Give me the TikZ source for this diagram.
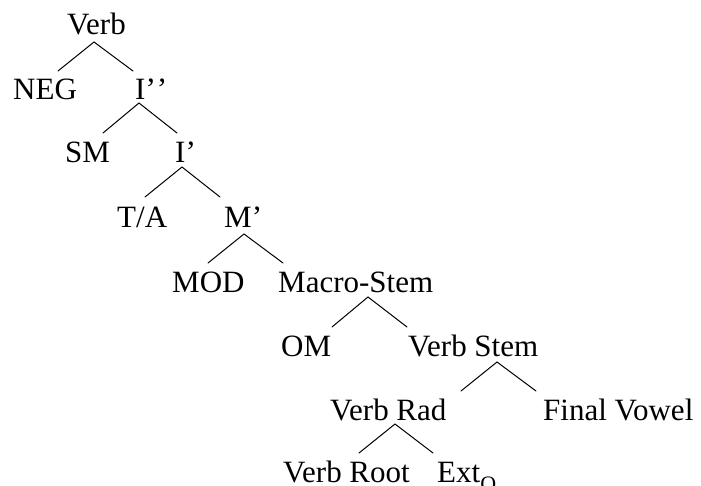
\documentclass[tikz,border=0pt]{standalone}
\usepackage{fontspec}
\setmainfont{Liberation Serif}
\begin{document}
\begin{tikzpicture}[x=1pt,y=-1pt,
  lbl/.style={inner sep=0pt, font=\fontsize{31}{31}\selectfont, anchor=base west},
  branch/.style={line width=1pt, line cap=round}]
\useasboundingbox (0,0) rectangle (701,486);
% labels
\node[lbl] (verb)  at (67,35)  {Verb};
\node[lbl] (neg)   at (13,100) {NEG};
\node[lbl] (ipp)   at (135,100) {I’\kern1pt’};
\node[lbl] (sm)    at (65,163) {SM};
\node[lbl] (ip)    at (175,163) {I’};
\node[lbl] (ta)    at (117,228) {T/A};
\node[lbl] (mp)    at (224,228) {M’};
\node[lbl] (mod)   at (172,292) {MOD};
\node[lbl] (macro) at (278,292) {Macro-Stem};
\node[lbl] (om)    at (281,356) {OM};
\node[lbl] (vstem) at (408,356) {Verb Stem};
\node[lbl] (vrad)  at (330,420) {Verb Rad};
\node[lbl] (fv)    at (543,420) {Final Vowel};
\node[lbl] (vroot) at (283,482) {Verb Root};
\node[lbl] (ext)   at (437,482) {Ext\raisebox{-9pt}{\fontsize{22}{22}\selectfont O}};
% branch points
\coordinate (a1) at (94,42);   \coordinate (l1) at (58,71);   \coordinate (r1) at (133,71);
\coordinate (a2) at (139,103); \coordinate (l2) at (103,133); \coordinate (r2) at (177,133);
\coordinate (a3) at (182,167); \coordinate (l3) at (145,197); \coordinate (r3) at (220,197);
\coordinate (a4) at (244,234); \coordinate (l4) at (208,263); \coordinate (r4) at (283,263);
\coordinate (a5) at (368,297); \coordinate (l5) at (332,327); \coordinate (r5) at (407,327);
\coordinate (a6) at (497,362); \coordinate (l6) at (461,391); \coordinate (r6) at (536,391);
\coordinate (a7) at (395,424); \coordinate (l7) at (359,453); \coordinate (r7) at (433,453);
\foreach \i in {1,...,7}{
  \draw[branch] (l\i) -- (a\i) -- (r\i);
}
\end{tikzpicture}
\end{document}
